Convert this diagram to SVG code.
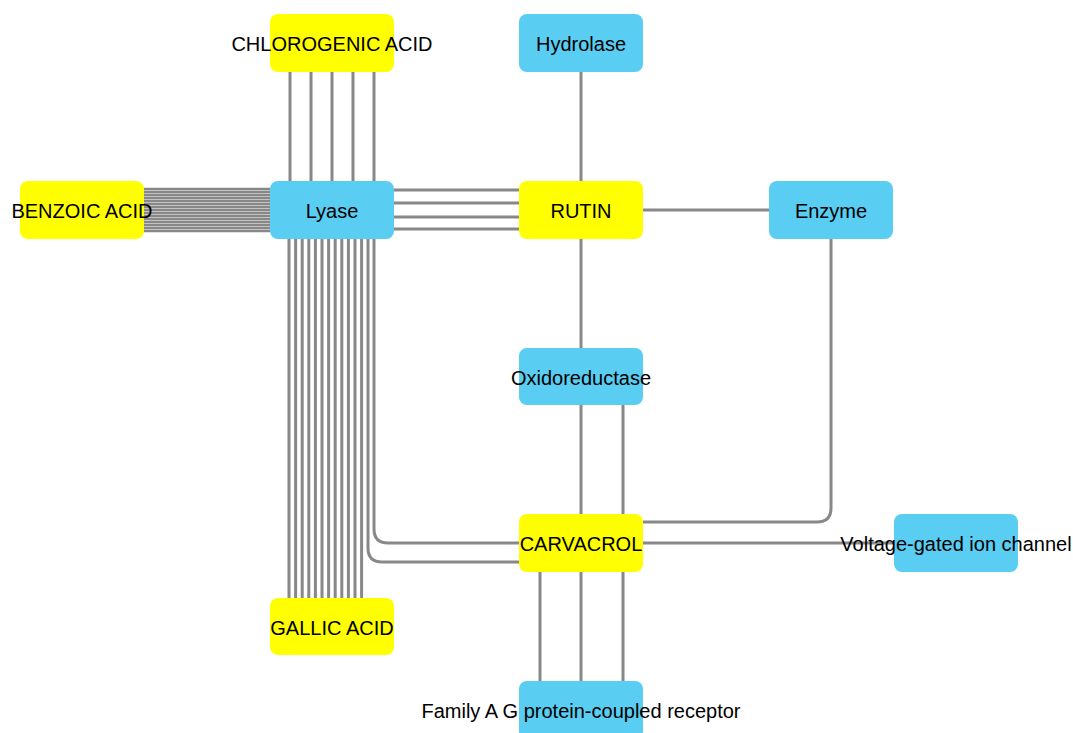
<svg xmlns="http://www.w3.org/2000/svg" width="1073" height="733" viewBox="0 0 1073 733">
<style>
.e{stroke:#888;stroke-width:3;fill:none}
.t{stroke:#888;stroke-width:2.3;fill:none}
.y{fill:#FFFF00}
.b{fill:#59CDF2}
text{font-family:"Liberation Sans",Arial,sans-serif;font-size:20px;fill:#000;text-anchor:middle;dominant-baseline:central}
</style>
<rect width="1073" height="733" fill="#fff"/>
<g id="edges">
<path class="e" d="M290 72V181M311 72V181M332 72V181M353 72V181M374 72V181"/>
<path class="t" d="M144 189H270M144 192H270M144 195H270M144 198H270M144 201H270M144 204H270M144 207H270M144 210H270M144 213H270M144 216H270M144 219H270M144 222H270M144 225H270M144 228H270M144 231H270"/>
<path class="e" d="M394 190H519M394 203H519M394 217H519M394 229H519"/>
<path class="e" d="M289 239V598M295.6 239V598M302.2 239V598M308.8 239V598M315.4 239V598M322 239V598M328.6 239V598M335.2 239V598M341.8 239V598M348.4 239V598M355 239V598M361.6 239V598"/>
<path class="e" d="M374 239V529Q374 543 388 543H519M368 239V548Q368 562 382 562H519"/>
<path class="e" d="M581 72V181M643 210H769M581 239V348M581 405V514M623 405V514"/>
<path class="e" d="M831 239V508Q831 522 817 522H643"/>
<path class="e" d="M643 543H894"/>
<path class="e" d="M540 572V681M581 572V681M623 572V681"/>
</g>
<g id="chlorogenic"><rect class="y" x="270" y="14" width="124" height="58" rx="8"/><text x="332" y="44">CHLOROGENIC ACID</text></g>
<g id="hydrolase"><rect class="b" x="519" y="14" width="124" height="58" rx="8"/><text x="581" y="44">Hydrolase</text></g>
<g id="benzoic"><rect class="y" x="20" y="181" width="124" height="58" rx="8"/><text x="82" y="211">BENZOIC ACID</text></g>
<g id="lyase"><rect class="b" x="270" y="181" width="124" height="58" rx="8"/><text x="332" y="211">Lyase</text></g>
<g id="rutin"><rect class="y" x="519" y="181" width="124" height="58" rx="8"/><text x="581" y="211">RUTIN</text></g>
<g id="enzyme"><rect class="b" x="769" y="181" width="124" height="58" rx="8"/><text x="831" y="211">Enzyme</text></g>
<g id="oxidoreductase"><rect class="b" x="519" y="348" width="124" height="57" rx="8"/><text x="581" y="378">Oxidoreductase</text></g>
<g id="carvacrol"><rect class="y" x="519" y="514" width="124" height="58" rx="8"/><text x="581" y="544">CARVACROL</text></g>
<g id="voltage"><rect class="b" x="894" y="514" width="124" height="58" rx="8"/><text x="956" y="544">Voltage-gated ion channel</text></g>
<g id="gallic"><rect class="y" x="270" y="598" width="124" height="57" rx="8"/><text x="332" y="628">GALLIC ACID</text></g>
<g id="gpcr"><rect class="b" x="519" y="681" width="124" height="58" rx="8"/><text x="581" y="711">Family A G protein-coupled receptor</text></g>
</svg>
